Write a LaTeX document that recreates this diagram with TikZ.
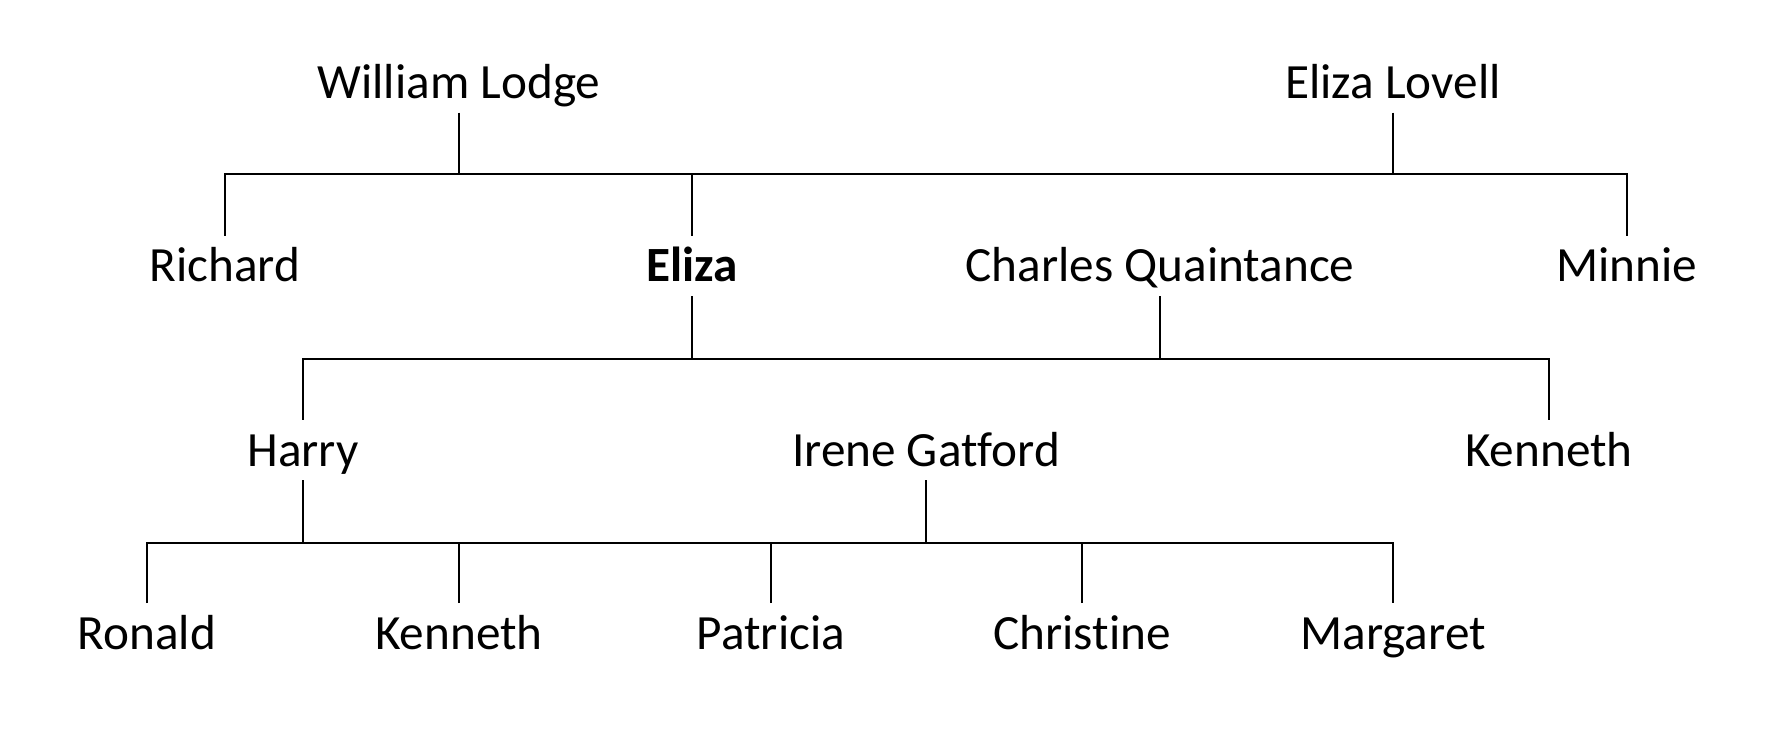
\documentclass[tikz,border=0pt]{standalone}
\usepackage{fontspec}
\setmainfont{Carlito}[Ligatures=NoCommon]
\tikzset{
	person/.style={anchor=base, inner xsep=2pt, inner ysep=3.9pt, text height=9pt, text depth=0pt, font=\fontsize{14pt}{16pt}\selectfont},
	link/.style={line width=0.6pt}
}
\begin{document}
\begin{tikzpicture}[x=0.01cm, y=-0.01cm]
	\useasboundingbox (0,0) rectangle (1774,736);
	% Generation 1
	\node [person] (wlodge)  at (459,98.3) {William Lodge};
	\node [person] (elovell) at (1393,98.3) {Eliza Lovell};
	
	% Generation 2
	\node [person] (richard) at (225,281.7) {Richard};
	\node [person] (eliza)   at (692,281.7) {\textbf{Eliza}};
	\node [person] (charles) at (1160,281.7) {Charles Quaintance};
	\node [person] (minnie)  at (1627,281.7) {Minnie};
	
	% Generation 3
	\node [person] (harry)   at (303,466) {Harry};
	\node [person] (irene)   at (926,466) {Irene Gatford};
	\node [person] (kenA)    at (1549,466) {Kenneth};
	
	% Generation 4
	\node [person] (ronald)  at (147,649.3) {Ronald};
	\node [person] (kenB)    at (459,649.3) {Kenneth};
	\node [person] (patricia) at (771,649.3) {Patricia};
	\node [person] (christine) at (1082,649.3) {Christine};
	\node [person] (margaret) at (1393,649.3) {Margaret};
	
	% Family lines
	\coordinate (bus1) at (0,174.3);
	\coordinate (bus2) at (0,358.7);
	\coordinate (bus3) at (0,543);
	
	\draw [link] (richard.north) -- (richard |- bus1) -- (minnie |- bus1) -- (minnie.north);
	\draw [link] (wlodge.south) -- (wlodge |- bus1);
	\draw [link] (elovell.south) -- (elovell |- bus1);
	\draw [link] (eliza.north) -- (eliza |- bus1);
	
	\draw [link] (harry.north) -- (harry |- bus2) -- (kenA |- bus2) -- (kenA.north);
	\draw [link] (eliza.south) -- (eliza |- bus2);
	\draw [link] (charles.south) -- (charles |- bus2);
	
	\draw [link] (ronald.north) -- (ronald |- bus3) -- (margaret |- bus3) -- (margaret.north);
	\draw [link] (harry.south) -- (harry |- bus3);
	\draw [link] (irene.south) -- (irene |- bus3);
	\draw [link] (kenB.north) -- (kenB |- bus3);
	\draw [link] (patricia.north) -- (patricia |- bus3);
	\draw [link] (christine.north) -- (christine |- bus3);
	
\end{tikzpicture}
\end{document}
